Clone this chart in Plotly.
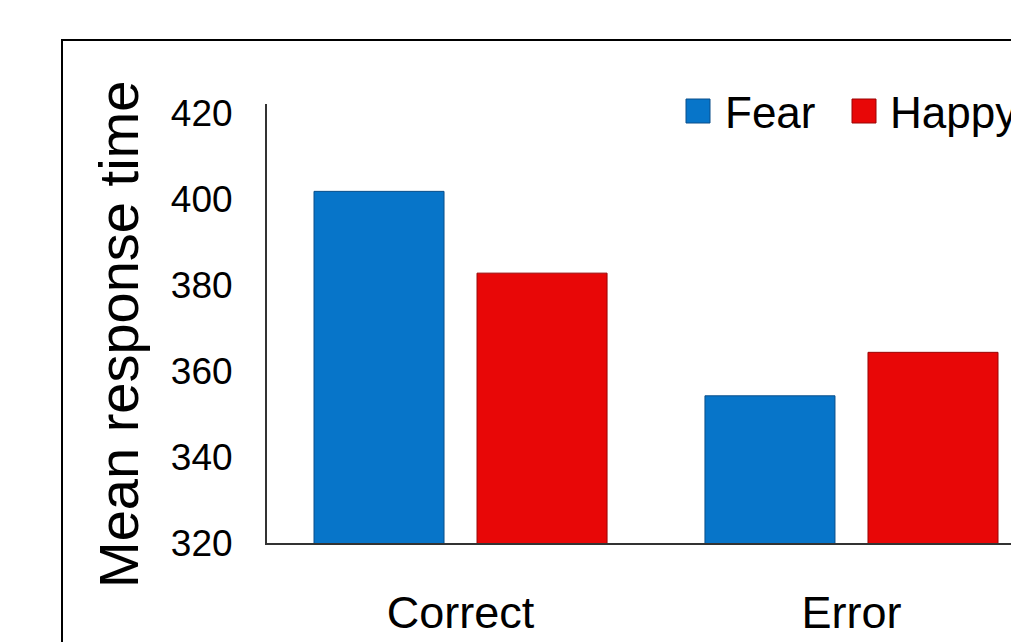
import plotly.graph_objects as go

# Mean response times by trial outcome and emotion
categories = ["Correct", "Error"]
fear_values = [401.7, 354.2]
happy_values = [382.7, 364.3]
series_names = ["Fear", "Happy"]
y_ticks = [320, 340, 360, 380, 400, 420]

BLUE = "#0775C9"
RED = "#E80707"
FONT = "Liberation Sans, Arial, sans-serif"

W, H = 1011, 642
L, R, T, B = 267, 0, 104, 99
PW, PH = W - L - R, H - T - B


def px_x(x):
    return (x - L) / PW


def px_y(y):
    return (H - B - y) / PH


fig = go.Figure()
fig.add_trace(go.Bar(
    x=categories, y=fear_values, name=series_names[0],
    marker=dict(color=BLUE, line=dict(color="#0a4f8a", width=1)),
))
fig.add_trace(go.Bar(
    x=categories, y=happy_values, name=series_names[1],
    marker=dict(color=RED, line=dict(color="#9a0505", width=1)),
))

shapes = [
    # outer frame
    dict(type="rect", xref="paper", yref="paper",
         x0=px_x(62), x1=px_x(1030), y0=px_y(670), y1=px_y(40),
         line=dict(color="black", width=2), fillcolor="rgba(0,0,0,0)", layer="below"),
    # legend swatches
    dict(type="rect", xref="paper", yref="paper",
         x0=px_x(686), x1=px_x(710), y0=px_y(123), y1=px_y(99),
         line=dict(color="#0a4f8a", width=1), fillcolor=BLUE),
    dict(type="rect", xref="paper", yref="paper",
         x0=px_x(852), x1=px_x(876), y0=px_y(123), y1=px_y(99),
         line=dict(color="#9a0505", width=1), fillcolor=RED),
]

annotations = [
    dict(text="Mean response time", textangle=-90, xref="paper", yref="paper",
         x=px_x(118), y=px_y(335), showarrow=False,
         font=dict(family=FONT, size=56, color="black"),
         xanchor="center", yanchor="middle"),
    dict(text=series_names[0], xref="paper", yref="paper",
         x=px_x(723), y=px_y(113), showarrow=False,
         font=dict(family=FONT, size=44, color="black"),
         xanchor="left", yanchor="middle"),
    dict(text=series_names[1], xref="paper", yref="paper",
         x=px_x(888), y=px_y(113), showarrow=False,
         font=dict(family=FONT, size=44, color="black"),
         xanchor="left", yanchor="middle"),
]

fig.update_layout(
    width=W, height=H,
    margin=dict(l=L, r=R, t=T, b=B, pad=0, autoexpand=False),
    paper_bgcolor="white", plot_bgcolor="white",
    barmode="group", bargap=0.166, bargroupgap=0.2025,
    showlegend=False,
    shapes=shapes, annotations=annotations,
    font=dict(family=FONT, color="black"),
    xaxis=dict(
        range=[-0.495, 1.408], showline=True, linecolor="#333333", linewidth=2,
        ticks="", showgrid=False, tickfont=dict(family=FONT, size=45, color="black"),
        ticklabelstandoff=29, fixedrange=True, automargin=False,
    ),
    yaxis=dict(
        range=[320, 422], tickvals=y_ticks, showline=True, linecolor="#333333",
        linewidth=2, ticks="", showgrid=False, zeroline=False,
        tickfont=dict(family=FONT, size=37, color="black"),
        ticklabelstandoff=25, fixedrange=True, automargin=False,
    ),
)

fig.write_html("out.html")
